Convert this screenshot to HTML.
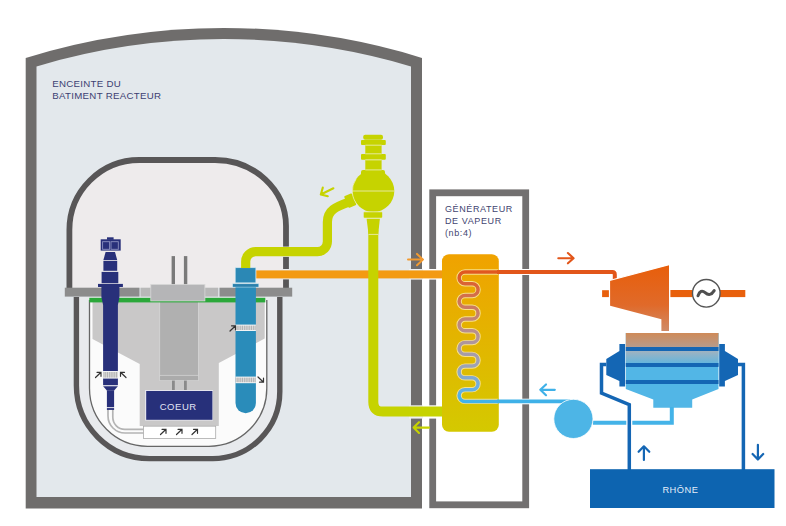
<!DOCTYPE html>
<html><head><meta charset="utf-8">
<style>
html,body{margin:0;padding:0;background:#fff;width:786px;height:526px;overflow:hidden}
svg{display:block}
text{font-family:"Liberation Sans",sans-serif}
</style></head><body>
<svg width="786" height="526" viewBox="0 0 786 526">
<defs>
<linearGradient id="sg" x1="0" y1="0" x2="0" y2="1">
<stop offset="0" stop-color="#f0a200"/><stop offset="1" stop-color="#d4c900"/>
</linearGradient>
<linearGradient id="coil" gradientUnits="userSpaceOnUse" x1="0" y1="270" x2="0" y2="402">
<stop offset="0" stop-color="#e2561c"/><stop offset="0.25" stop-color="#cf7658"/><stop offset="0.5" stop-color="#b39296"/><stop offset="0.72" stop-color="#9ea2b4"/><stop offset="0.88" stop-color="#6eaede"/><stop offset="1" stop-color="#3fb3ea"/>
</linearGradient>
<linearGradient id="turb" gradientUnits="userSpaceOnUse" x1="0" y1="265" x2="0" y2="332">
<stop offset="0" stop-color="#e85e0a"/><stop offset="0.6" stop-color="#e06a2a"/><stop offset="1" stop-color="#cf8c6a"/>
</linearGradient>
<linearGradient id="cond" gradientUnits="userSpaceOnUse" x1="0" y1="333" x2="0" y2="366">
<stop offset="0" stop-color="#cf8a58"/><stop offset="0.4" stop-color="#b89a88"/><stop offset="0.55" stop-color="#a0b2c0"/><stop offset="1" stop-color="#56b6e4"/>
</linearGradient>
<pattern id="stripe" patternUnits="userSpaceOnUse" x="0" y="0" width="1.8" height="10">
<rect width="1.8" height="10" fill="#dcdcdc"/><rect x="1.1" width="0.7" height="10" fill="#a6a6a6"/>
</pattern>
</defs>

<!-- outer containment -->
<path d="M25.7,508.4 L25.7,57.9 A670.5,670.5 0 0 1 422,57.9 L422,508.4 Z" fill="#6f6d6c"/>
<path d="M36.5,497 L36.5,66.4 A655,655 0 0 1 411,66.4 L411,497 Z" fill="#e3e8ec"/>
<text x="52.2" y="86.9" font-size="9.7" fill="#3c4072" letter-spacing="0.3">ENCEINTE DU</text>
<text x="52.2" y="99.4" font-size="9.7" fill="#3c4072" letter-spacing="0.3">BATIMENT REACTEUR</text>

<!-- SG box -->
<rect x="432.7" y="192.8" width="93" height="312" fill="#fff" stroke="#727070" stroke-width="6.8"/>
<text x="445" y="211.7" font-size="9" fill="#414470" letter-spacing="0.6">GÉNÉRATEUR</text>
<text x="445" y="224.1" font-size="9" fill="#414470" letter-spacing="0.6">DE VAPEUR</text>
<text x="445" y="236.2" font-size="9" fill="#414470" letter-spacing="0.6">(nb:4)</text>

<!-- inner containment upper (above slab) -->
<path d="M69.4,288 L69.4,230 A70,70 0 0 1 139.4,160 L215,160 A71,66 0 0 1 286,226 L286,288 Z" fill="#eeebec"/>
<path d="M69.4,288 L69.4,230 A70,70 0 0 1 139.4,160 L215,160 A71,66 0 0 1 286,226 L286,288" fill="none" stroke="#585657" stroke-width="5.8"/>
<!-- lower containment -->
<path d="M76.4,297 L76.4,385.6 A73,73 0 0 0 149.4,458.6 L212.8,458.6 A67,67 0 0 0 279.8,391.6 L279.8,297 Z" fill="#e8eaed"/>
<path d="M76.4,297 L76.4,385.6 A73,73 0 0 0 149.4,458.6 L212.8,458.6 A67,67 0 0 0 279.8,391.6 L279.8,297" fill="none" stroke="#585657" stroke-width="5.4"/>
<!-- vessel outline -->
<path d="M89.5,300 L89.5,388.3 A58,58 0 0 0 147.5,446.3 L208.8,446.3 A58,58 0 0 0 266.8,388.3 L266.8,300" fill="#fbfbfb" stroke="#666" stroke-width="1.3"/>
<!-- grey internals -->
<path d="M92.5,302 L264.7,302 L264.7,338.5 L218.8,363 L218.8,426 L139.7,426 L139.7,364 L92.5,339 Z" fill="#c9c8c8"/>
<rect x="159.7" y="300.6" width="38.8" height="76" fill="#b0b0b0" stroke="#d6d6d6" stroke-width="0.8"/>
<rect x="159.7" y="375.3" width="38.8" height="5.4" fill="#ababab" stroke="#d8d8d8" stroke-width="0.7"/>
<rect x="172" y="380.6" width="2.8" height="10" fill="#8a8a8a"/>
<rect x="184" y="380.6" width="2.8" height="10" fill="#8a8a8a"/>
<!-- coeur -->
<rect x="145" y="390" width="68" height="30.6" fill="#e4e4ec"/>
<rect x="146.2" y="391" width="66.2" height="28.8" fill="#27307a"/>
<text x="159.7" y="410.1" font-size="9.5" fill="#e2e5f5" letter-spacing="0.55">COEUR</text>
<path d="M108,409 L108,416 A17,17 0 0 0 125,433 L145,433" fill="none" stroke="#b4b4b4" stroke-width="1.7"/>
<path d="M112.8,409 L112.8,417.3 A12,12 0 0 0 124.8,429.3 L145,429.3" fill="none" stroke="#b4b4b4" stroke-width="1.7"/>
<!-- bottom box -->
<rect x="143.4" y="426.2" width="72.3" height="12.2" fill="#fff" stroke="#aaa" stroke-width="0.8"/>

<!-- slab -->
<rect x="64.8" y="287.7" width="74.7" height="8.9" fill="#8c8c8c"/>
<rect x="140.5" y="287.7" width="77.7" height="8.9" fill="#b8b8b8"/>
<rect x="219.5" y="287.7" width="72.7" height="8.9" fill="#8c8c8c"/>
<rect x="89.3" y="297.8" width="176" height="4.6" fill="#2ba83a"/>
<rect x="150.8" y="284.4" width="54.1" height="16.5" fill="#b5b5b7" stroke="#d8d8d8" stroke-width="0.8"/>
<rect x="171.6" y="256.1" width="3.4" height="28" fill="#7a7a7a"/>
<rect x="183.9" y="256.1" width="3.4" height="28" fill="#7a7a7a"/>

<!-- CRDM navy -->
<g fill="#28307a">
<rect x="107" y="237.3" width="6.6" height="2.5"/>
<rect x="100.7" y="239.3" width="20" height="11.3"/>
<path d="M105.6,252 L115,252 L117.2,260 L103.4,260 Z"/>
<rect x="103.4" y="260.8" width="13.8" height="10"/>
<rect x="101.6" y="271.9" width="16.7" height="11.3"/>
<rect x="98" y="283.9" width="24.9" height="3.1"/>
<path d="M101.4,287 L119.4,287 L119.4,297 L117.9,305 L117.9,371.5 L103.1,371.5 L103.1,305 L101.4,297 Z"/>
<rect x="103.1" y="378.3" width="14.8" height="6.9"/>
<path d="M103.1,386.3 L117.9,386.3 L114.1,390.5 L106.9,390.5 Z"/>
<rect x="106.9" y="390.3" width="7.2" height="16.9"/>
<rect x="106.9" y="408.1" width="7.2" height="1.8"/>
</g>
<rect x="102.6" y="241.7" width="7" height="7.6" fill="none" stroke="#8a90c0" stroke-width="0.9"/>
<rect x="111" y="241.7" width="7.3" height="7.6" fill="none" stroke="#8a90c0" stroke-width="0.9"/>
<rect x="103.1" y="371" width="14.8" height="7.4" fill="#f4f4f4"/><rect x="103.1" y="372" width="14.8" height="5.6" fill="url(#stripe)"/>

<!-- blue pump cylinder -->
<path d="M235.5,287 L255.9,287 L255.9,403 A10.2,10.2 0 0 1 235.5,403 Z" fill="#2a8cba"/>
<rect x="235.3" y="267.8" width="20.5" height="15" fill="#2b88b5" stroke="#c8e6f2" stroke-width="0.5"/>
<rect x="232.7" y="283.8" width="26.1" height="3.3" fill="#2a80ad" stroke="#c8e6f2" stroke-width="0.5"/>
<rect x="235.5" y="324.6" width="20.4" height="6.4" fill="#f4f4f4"/><rect x="235.5" y="325.6" width="20.4" height="4.4" fill="url(#stripe)"/>
<rect x="235.5" y="376.6" width="20.4" height="6.6" fill="#f4f4f4"/><rect x="235.5" y="377.6" width="20.4" height="4.6" fill="url(#stripe)"/>

<!-- wall gaps -->
<rect x="281" y="246.6" width="10" height="10.3" fill="#e9eaec"/>
<rect x="281" y="269" width="10" height="10.4" fill="#e9eaec"/>
<rect x="409" y="269" width="14" height="10.6" fill="#eef1f3"/>
<rect x="428" y="269" width="9" height="10.6" fill="#fff"/>
<rect x="409" y="405.3" width="14" height="13.3" fill="#eef1f3"/>
<rect x="428" y="405.3" width="9" height="13.3" fill="#fff"/>
<rect x="521" y="269" width="10" height="6" fill="#fff"/>
<rect x="521" y="398.7" width="10" height="5.6" fill="#fff"/>
<!-- orange hot leg -->
<rect x="256.3" y="270.4" width="186" height="8" fill="#f39a12"/>
<!-- yellow-green cold leg -->
<path d="M245.7,268 L245.7,261.6 A10,10 0 0 1 255.7,251.6 L317.4,251.6 A10,10 0 0 0 327.4,241.6 L327.4,222 C327.4,210 336,206.8 349,202" fill="none" stroke="#c6d300" stroke-width="9.2"/>
<path d="M373.3,230 L373.3,402 Q373.3,411.6 383,411.6 L445,411.6" fill="none" stroke="#c6d300" stroke-width="10"/>

<!-- SG vessel -->
<rect x="442" y="254.3" width="56.8" height="177.5" rx="7" fill="url(#sg)"/>


<!-- pump (yellow) -->
<g fill="#c6d300">
<rect x="363.2" y="134.8" width="19.8" height="5" rx="2"/>
<rect x="361" y="139.9" width="24.8" height="5.1" rx="1"/>
<rect x="365.3" y="145" width="16.3" height="9"/>
<rect x="361" y="154" width="24.8" height="5.7" rx="1"/>
<rect x="365.3" y="159.7" width="16.3" height="10.5"/>
<rect x="361" y="170" width="24" height="6" rx="2"/>
<circle cx="373.3" cy="191" r="21"/>
<rect x="363.7" y="211.8" width="18.5" height="6.2" rx="1"/>
<path d="M366.6,218.4 L379.9,218.4 L378.2,234.2 L368.5,234.2 Z"/>
<rect x="-4.2" y="-6.3" width="8.4" height="12.6" rx="1" transform="translate(350.2,200.6) rotate(-22)"/>
</g>
<g stroke="#eef0c0" stroke-width="0.8" fill="none">
<line x1="365.3" y1="145.2" x2="381.6" y2="145.2"/>
<line x1="365.3" y1="153.8" x2="381.6" y2="153.8"/>
<line x1="365.3" y1="159.9" x2="381.6" y2="159.9"/>
<line x1="365.3" y1="169.9" x2="381.6" y2="169.9"/>
<line x1="352.5" y1="191" x2="394.3" y2="191"/>
<path d="M358.4,205.8 A21,21 0 0 1 356.1,178.95" stroke-width="0.7"/>
<line x1="363.7" y1="211.8" x2="382.2" y2="211.8"/>
<line x1="364" y1="218.2" x2="382" y2="218.2"/>
<line x1="368.5" y1="234.4" x2="378.2" y2="234.4"/>
</g>

<!-- coil -->
<path d="M498,272.00 L465.0,272.00 A5.88,5.88 0 0 0 465.0,283.76 L472.2,283.76 A5.88,5.88 0 0 1 472.2,295.53 L465.0,295.53 A5.88,5.88 0 0 0 465.0,307.29 L472.2,307.29 A5.88,5.88 0 0 1 472.2,319.05 L465.0,319.05 A5.88,5.88 0 0 0 465.0,330.82 L472.2,330.82 A5.88,5.88 0 0 1 472.2,342.58 L465.0,342.58 A5.88,5.88 0 0 0 465.0,354.35 L472.2,354.35 A5.88,5.88 0 0 1 472.2,366.11 L465.0,366.11 A5.88,5.88 0 0 0 465.0,377.87 L472.2,377.87 A5.88,5.88 0 0 1 472.2,389.64 L465.0,389.64 A5.88,5.88 0 0 0 465.0,401.40 L472.2,401.40 L498,401.40" fill="none" stroke="#f6e08a" stroke-width="5.4"/>
<path d="M498,272.00 L465.0,272.00 A5.88,5.88 0 0 0 465.0,283.76 L472.2,283.76 A5.88,5.88 0 0 1 472.2,295.53 L465.0,295.53 A5.88,5.88 0 0 0 465.0,307.29 L472.2,307.29 A5.88,5.88 0 0 1 472.2,319.05 L465.0,319.05 A5.88,5.88 0 0 0 465.0,330.82 L472.2,330.82 A5.88,5.88 0 0 1 472.2,342.58 L465.0,342.58 A5.88,5.88 0 0 0 465.0,354.35 L472.2,354.35 A5.88,5.88 0 0 1 472.2,366.11 L465.0,366.11 A5.88,5.88 0 0 0 465.0,377.87 L472.2,377.87 A5.88,5.88 0 0 1 472.2,389.64 L465.0,389.64 A5.88,5.88 0 0 0 465.0,401.40 L472.2,401.40 L498,401.40" fill="none" stroke="url(#coil)" stroke-width="3.5"/>
<!-- steam line to turbine -->
<path d="M497,272.1 L612.3,272.1 Q614.8,272.1 614.8,274.6 L614.8,279.5" fill="none" stroke="#e2561a" stroke-width="4"/>
<!-- feed water line -->
<path d="M497,401.4 L570,401.4" fill="none" stroke="#3fb1e8" stroke-width="3.8"/>

<!-- turbine -->
<rect x="602.1" y="290.2" width="6.8" height="6.9" fill="#e8600c"/>
<rect x="670.4" y="290" width="22.3" height="7.1" fill="#e8600c"/>
<rect x="719.8" y="290" width="25.5" height="7.1" fill="#e8600c"/>
<path d="M610.1,280.3 L669,264.7 L669,331 L661.4,331 L661.4,319.2 L610.1,305.8 Z" fill="url(#turb)"/>
<path d="M609.6,280.5 L669,264.7" stroke="#fff" stroke-width="1.2" fill="none"/>
<circle cx="706.3" cy="293.3" r="13.8" fill="#fff" stroke="#555" stroke-width="1.4"/>
<path d="M698,295.8 Q700.5,288.6 705.2,292.6 Q710,297.2 714.2,290.6" fill="none" stroke="#4f4f4f" stroke-width="3" stroke-linecap="round"/>

<!-- condenser -->
<path d="M625.8,333 L718.5,333 L718.5,389 L692.2,399.5 L692.2,407.7 L653.3,407.7 L653.3,399.5 L625.8,389 Z" fill="#52b6e6"/>
<rect x="625.8" y="333" width="92.7" height="33" fill="url(#cond)"/>
<g fill="#1466b4">
<rect x="625.8" y="347" width="92.7" height="4"/>
<rect x="625.8" y="363" width="92.7" height="4"/>
<rect x="625.8" y="380" width="92.7" height="4"/>
<path d="M619.4,344 L625.1,344 L625.1,386.4 L619.4,386.4 L619.4,381 L606.3,375 L606.3,359 L619.4,351 Z"/>
<path d="M724.9,344 L719.2,344 L719.2,386.4 L724.9,386.4 L724.9,381 L738,375 L738,359 L724.9,351 Z"/>
</g>
<!-- pump 2 -->
<path d="M671.8,407 L671.8,422.8 L593,422.8" fill="none" stroke="#44b3e8" stroke-width="4"/>
<circle cx="573.4" cy="418.9" r="19.6" fill="#4db5e6" stroke="#fff" stroke-width="0.8"/>
<path d="M601.5,367 L601.5,393 L629.3,404.7 L629.3,466" fill="none" stroke="#fff" stroke-width="6"/>
<path d="M743.4,368 L743.4,466" fill="none" stroke="#fff" stroke-width="6"/>
<path d="M606.3,364.6 L601.5,364.6 L601.5,393 L629.3,404.7 L629.3,470" fill="none" stroke="#1466b4" stroke-width="3.5"/>
<path d="M738,364.6 L743.4,364.6 L743.4,470" fill="none" stroke="#1466b4" stroke-width="3.5"/>
<!-- river -->
<rect x="590" y="469.2" width="184.5" height="38.8" fill="#0d64b0"/>
<text x="662.4" y="492.6" font-size="9.3" fill="#e4eef9" letter-spacing="0.5">RHÔNE</text>

<!-- arrows -->
<g fill="none" stroke-width="1.8" stroke-linecap="round" stroke-linejoin="round">
<path d="M558.3,258.2 L573.4,258.2 M567.9,253 L573.6,258.2 L567.9,263.3" stroke="#e2561a" stroke-width="2.1"/>
<path d="M408,259.6 L423,259.6 M417,253.9 L423,259.6 L417,265.3" stroke="#f29a30" stroke-width="2"/>
<path d="M429,427.6 L413.8,427.6 M419,422.2 L413.6,427.6 L419,433" stroke="#c6d300" stroke-width="2.1"/>
<path d="M554.8,389.8 L540.5,389.8 M546,384.5 L540.3,389.8 L546,395.2" stroke="#3fb1e8" stroke-width="2.2"/>
<path d="M333.4,188.3 L320.8,194.5 M322.8,187.6 L320.8,194.5 L327.8,196.2" stroke="#c6d300" stroke-width="2.1"/>
<path d="M643.9,460 L643.9,446.5 M638.6,451.8 L643.9,446.3 L649.3,451.8" stroke="#1466b4" stroke-width="2.2"/>
<path d="M757.9,444.8 L757.9,459.3 M752.6,454 L757.9,459.5 L763.2,454" stroke="#1466b4" stroke-width="2.2"/>
</g>
<g fill="none" stroke="#333" stroke-width="1.2" stroke-linecap="round">
<path d="M95.5,377.5 L101,372.3 M97,372.3 L101,372.3 L101,376.3"/>
<path d="M126,377.5 L120.5,372.3 M124.5,372.3 L120.5,372.3 L120.5,376.3"/>
<path d="M230,331 L235.5,325.8 M231.5,325.8 L235.5,325.8 L235.5,329.8"/>
<path d="M258,377 L263.5,382.2 M263.5,378.2 L263.5,382.2 L259.5,382.2"/>
<path d="M160.5,434.5 L166,429.3 M162,429.3 L166,429.3 L166,433.3"/>
<path d="M176.5,434.5 L182,429.3 M178,429.3 L182,429.3 L182,433.3"/>
<path d="M192,434.5 L197.5,429.3 M193.5,429.3 L197.5,429.3 L197.5,433.3"/>
</g>

</svg>
</body></html>
